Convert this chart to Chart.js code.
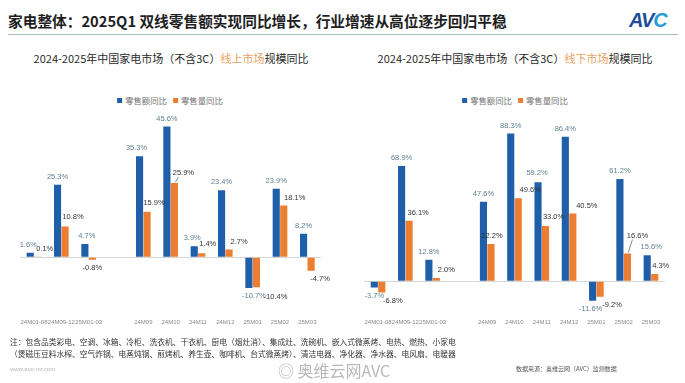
<!DOCTYPE html>
<html><head><meta charset="utf-8">
<script src="https://cdn.jsdelivr.net/npm/chart.js@4.4.1/dist/chart.umd.min.js"></script>
<style>
html,body{margin:0;padding:0;background:#fff;}
#page{position:relative;width:685px;height:383px;overflow:hidden;background:#fff;font-family:"Noto Sans CJK SC","Noto Sans",sans-serif;}
.abs{position:absolute;white-space:nowrap;}
canvas{position:absolute;left:0;top:0;}
.legend{display:flex;align-items:center;transform:translateX(-50%);font-size:8.4px;color:#777;line-height:12px;}
.legend i{display:inline-block;width:5px;height:5px;margin-right:3px;}
.title{transform:translateX(-50%);font-size:11px;color:#2a2a2a;line-height:14px;}
</style></head><body>
<div id="page">
  <div class="abs" style="left:8px;top:12px;font-size:14.7px;font-weight:bold;color:#1e1e1e;line-height:18px;">家电整体：2025Q1 双线零售额实现同比增长，行业增速从高位逐步回归平稳</div>
  <div class="abs" style="left:8px;top:34px;width:670px;height:1px;background:#a7bcbc"></div>
  <div class="abs" style="left:629px;top:9px;font-family:'Liberation Sans',Arial,sans-serif;font-size:20px;font-weight:bold;font-style:italic;line-height:22px;letter-spacing:-1px;color:#1c4e9d">AV<span style="color:#2b9ad6">C</span></div>

  <div class="abs title" style="left:171px;top:51px;">2024-2025年中国家电市场（不含3C）<span style="color:#e9a15f">线上市场</span>规模同比</div>
  <div class="abs title" style="left:515px;top:51px;">2024-2025年中国家电市场（不含3C）<span style="color:#e9a15f">线下市场</span>规模同比</div>

  <div class="abs legend" id="lg1" style="left:170px;top:94px;"></div>
  <div class="abs legend" id="lg2" style="left:515px;top:94px;"></div>

  <canvas id="c1" width="685" height="383"></canvas>
  <canvas id="c2" width="685" height="383"></canvas>

  <div class="abs" style="left:10px;top:336px;font-size:7.75px;color:#333;line-height:12px;">注：包含品类彩电、空调、冰箱、冷柜、洗衣机、干衣机、厨电（烟灶消）、集成灶、洗碗机、嵌入式微蒸烤、电热、燃热、小家电<br>（煲磁压豆料水榨、空气炸锅、电蒸炖锅、煎烤机、养生壶、咖啡机、台式微蒸烤）、清洁电器、净化器、净水器、电风扇、电暖器</div>
  <div class="abs" style="left:10px;top:364px;font-size:6px;color:#b5b5b5;line-height:10px;font-family:'Liberation Sans',Arial,sans-serif;">www.avc-mr.com</div>
  <div class="abs" style="left:278px;top:360px;font-size:16px;color:#b8b8b8;line-height:20px;">◎ 奥维云网AVC</div>
  <div class="abs" style="left:516px;top:364px;font-size:6px;color:#555;line-height:10px;">数据来源：奥维云网（AVC）监测数据</div>
</div>
<script>
// ---- data ----
const categories = ['24M01-08','24M09-12','25M01-03','','24M09','24M10','24M11','24M12','25M01','25M02','25M03'];
const seriesNames = ['零售额同比','零售量同比'];
const onlineSales   = [1.6, 25.3, 4.7, null, 35.3, 45.6, 3.9, 23.4, -10.7, 23.9, 8.2];
const onlineVolume  = [0.1, 10.8, -0.8, null, 15.9, 25.9, 1.4, 2.7, -10.4, 18.1, -4.7];
const offlineSales  = [-3.7, 68.9, 12.8, null, 47.6, 88.3, 59.2, 86.4, -11.6, 61.2, 15.6];
const offlineVolume = [-6.8, 36.1, 2.0, null, 22.2, 49.6, 33.0, 40.5, -9.2, 16.6, 4.3];

// ---- styles ----
const barColors = ['#1f5ea8', '#ed7d31'];
const labelColors = ['#5f7f8e', '#333333'];
const onlineNudges = [
  [[-2,0],[0,0],[2,0],[0,0],[-3,0],[0,0],[-2,0],[0,0],[5,0],[0,0],[0,0]],
  [[7,0],[8,-1.5],[0,0],[0,0],[7,-1],[9,-2],[6,-1],[10,0],[19,2],[11,0],[9,0]]
];
const offlineNudges = [
  [[0,0],[0,0],[0,0],[0,0],[0,0],[0,0],[-1,-1],[0,0],[-2,0],[0,0],[4,0]],
  [[11,0],[9,0],[10,0],[0,0],[1,0],[12,0],[8,-1],[14,0],[12,0],[10,-10],[6,0]]
];
const onlineLeaders = [[], [5]];
const offlineLeaders = [[], [9]];
const PAGE_H = 383, AREA_BOTTOM = 314.7;

function buildLegend(id){
  const el = document.getElementById(id);
  seriesNames.forEach((n, i) => {
    const s = document.createElement('span');
    s.style.display = 'inline-flex'; s.style.alignItems = 'center';
    if (i > 0) s.style.marginLeft = '6px';
    s.innerHTML = '<i style="background:' + barColors[i] + '"></i>' + n;
    el.appendChild(s);
  });
}
buildLegend('lg1'); buildLegend('lg2');

function labelPlugin(nudges, leaders){
  return {
    id: 'valueLabels',
    afterDatasetsDraw(chart){
      const ctx = chart.ctx;
      chart.data.datasets.forEach((ds, di) => {
        const meta = chart.getDatasetMeta(di);
        meta.data.forEach((el, i) => {
          const v = ds.data[i];
          if (v === null || v === undefined) return;
          const n = (nudges[di] && nudges[di][i]) || [0,0];
          const x = el.x + n[0];
          const y = (v >= 0 ? el.y - 8 : el.y + 8) + n[1];
          ctx.save();
          ctx.font = '7.5px "Liberation Sans", Arial, sans-serif';
          ctx.fillStyle = labelColors[di];
          ctx.textAlign = 'center';
          ctx.textBaseline = 'middle';
          ctx.fillText(v.toFixed(1) + '%', x, y);
          if (leaders[di].includes(i)) {
            ctx.strokeStyle = '#555';
            ctx.lineWidth = 0.7;
            ctx.beginPath();
            ctx.moveTo(el.x + 1, el.y - 1);
            ctx.lineTo(x - 5, y + 4);
            ctx.stroke();
          }
          ctx.restore();
        });
      });
    }
  };
}

function makeChart(id, sales, volume, yMin, yMax, padding, nudges, leaders){
  const chart = new Chart(document.getElementById(id), {
    type: 'bar',
    data: {
      labels: categories,
      datasets: [
        { label: seriesNames[0], data: sales, backgroundColor: barColors[0], categoryPercentage: 0.55, barPercentage: 0.95 },
        { label: seriesNames[1], data: volume, backgroundColor: barColors[1], categoryPercentage: 0.55, barPercentage: 0.95 }
      ]
    },
    options: {
      responsive: false,
      animation: false,
      layout: { padding: padding },
      plugins: { legend: { display: false }, tooltip: { enabled: false } },
      scales: {
        x: {
          grid: { display: false, drawTicks: false },
          border: { display: false },
          ticks: { autoSkip: false, maxRotation: 0, minRotation: 0, padding: 4,
                   color: '#8a8a8a', font: { size: 6, family: 'Arial' } }
        },
        y: {
          min: yMin, max: yMax,
          ticks: { display: false, stepSize: 10 },
          border: { display: false },
          grid: { drawTicks: false, lineWidth: 1,
                  color: c => (c.tick && c.tick.value === 0) ? '#d6d6d6' : 'rgba(0,0,0,0)' }
        }
      }
    },
    plugins: [labelPlugin(nudges, leaders)]
  });
  // place the plot area bottom precisely, whatever height the x axis takes
  chart.options.layout.padding.bottom = PAGE_H - AREA_BOTTOM - chart.scales.x.height;
  chart.update();
  return chart;
}

makeChart('c1', onlineSales, onlineVolume, -20, 50,
  { left: 20.3, right: 364, top: 114, bottom: 50 }, onlineNudges, onlineLeaders);
makeChart('c2', offlineSales, offlineVolume, -20, 100,
  { left: 364.4, right: 20.4, top: 114, bottom: 50 }, offlineNudges, offlineLeaders);
</script>
</body></html>
